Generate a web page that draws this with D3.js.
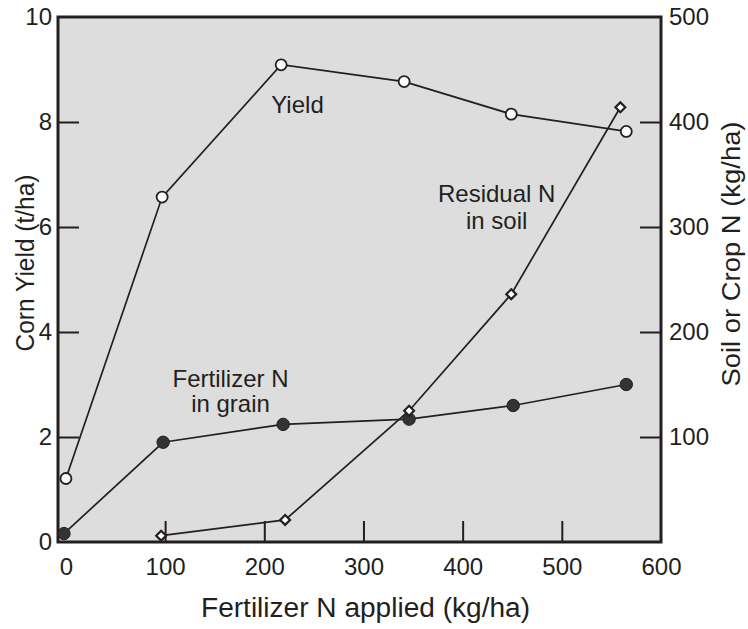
<!DOCTYPE html>
<html>
<head>
<meta charset="utf-8">
<script src="https://cdn.jsdelivr.net/npm/d3@7"></script>
<style>
  html, body { margin: 0; padding: 0; background: #fff; }
  svg { display: block; font-family: "Liberation Sans", Arial, sans-serif; }
</style>
</head>
<body>
<svg id="chart" width="748" height="629"></svg>
<script>
// ---- data ----
const xTickLabels = [0, 100, 200, 300, 400, 500, 600];
const yLeftTickLabels = [0, 2, 4, 6, 8, 10];
const yRightTickLabels = [100, 200, 300, 400, 500];

const yieldRate = [0, 97, 217, 341, 449, 565];
const yieldValues = [1.21, 6.57, 9.09, 8.77, 8.15, 7.82];        // t/ha (left axis)

const grainRate = [-2, 98, 219, 346, 451, 565];
const grainN = [8, 95, 112, 117, 130, 150];                       // kg/ha (right axis)

const residualRate = [96, 221, 346, 449, 559];
const residualN = [6, 21, 125, 236, 414];                         // kg/ha (right axis)

// ---- layout ----
const svg = d3.select("#chart");
const L = 58, R = 661, T = 17, B = 542;
const ink = "#231f20";

const x = d3.scaleLinear().domain([-8, 600]).range([L, R]);
const yL = d3.scaleLinear().domain([0, 10]).range([B, T]);
const yR = d3.scaleLinear().domain([0, 500]).range([B, T]);

// plot background
svg.append("rect").attr("x", L).attr("y", T).attr("width", R - L).attr("height", B - T)
  .attr("fill", "#dddddd");

// inward tick marks
const tickLen = 21;
const gxT = svg.append("g").attr("transform", `translate(0,${B})`)
  .call(d3.axisBottom(x).tickValues([100, 200, 300, 400, 500]).tickSize(-tickLen).tickFormat(""));
const gyLT = svg.append("g").attr("transform", `translate(${L},0)`)
  .call(d3.axisLeft(yL).tickValues([2, 4, 6, 8]).tickSize(-tickLen).tickFormat(""));
const gyRT = svg.append("g").attr("transform", `translate(${R},0)`)
  .call(d3.axisRight(yR).tickValues([100, 200, 300, 400]).tickSize(-tickLen).tickFormat(""));
[gxT, gyLT, gyRT].forEach(g => {
  g.select(".domain").remove();
  g.selectAll("line").attr("stroke", ink).attr("stroke-width", 2);
});

// tick labels
const fs = 24;
const gxL = svg.append("g").attr("transform", `translate(0,${B})`)
  .call(d3.axisBottom(x).tickValues(xTickLabels).tickSize(0).tickPadding(16));
const gyLL = svg.append("g").attr("transform", `translate(${L},0)`)
  .call(d3.axisLeft(yL).tickValues(yLeftTickLabels).tickSize(0).tickPadding(6));
const gyRL = svg.append("g").attr("transform", `translate(${R},0)`)
  .call(d3.axisRight(yR).tickValues(yRightTickLabels).tickSize(0).tickPadding(8));
[gxL, gyLL, gyRL].forEach(g => {
  g.select(".domain").remove();
  g.selectAll("text").attr("font-size", fs).attr("fill", ink)
    .attr("font-family", "Liberation Sans, Arial, sans-serif");
});

// frame
svg.append("rect").attr("x", L).attr("y", T).attr("width", R - L).attr("height", B - T)
  .attr("fill", "none").attr("stroke", ink).attr("stroke-width", 3);

// series lines
const lineGen = (xs, ys, yScale) => d3.line()(xs.map((v, i) => [x(v), yScale(ys[i])]));

svg.append("path").attr("d", lineGen(grainRate, grainN, yR))
  .attr("fill", "none").attr("stroke", ink).attr("stroke-width", 1.7);
svg.append("path").attr("d", lineGen(residualRate, residualN, yR))
  .attr("fill", "none").attr("stroke", ink).attr("stroke-width", 1.7);
svg.append("path").attr("d", lineGen(yieldRate, yieldValues, yL))
  .attr("fill", "none").attr("stroke", ink).attr("stroke-width", 1.7);

// markers
svg.append("g").selectAll("circle").data(grainRate).join("circle")
  .attr("cx", d => x(d)).attr("cy", (d, i) => yR(grainN[i])).attr("r", 6.2)
  .attr("fill", "#333333").attr("stroke", ink).attr("stroke-width", 1);

const diamond = d3.symbol().type(d3.symbolDiamond2).size(62);
svg.append("g").selectAll("path").data(residualRate).join("path")
  .attr("d", diamond)
  .attr("transform", (d, i) => `translate(${x(d)},${yR(residualN[i])})`)
  .attr("fill", "#ffffff").attr("stroke", ink).attr("stroke-width", 2.2);

svg.append("g").selectAll("circle").data(yieldRate).join("circle")
  .attr("cx", d => x(d)).attr("cy", (d, i) => yL(yieldValues[i])).attr("r", 5.5)
  .attr("fill", "#ffffff").attr("stroke", ink).attr("stroke-width", 1.8);

// annotations
const ann = svg.append("g").attr("font-size", fs).attr("fill", ink).attr("text-anchor", "middle");
ann.append("text").attr("x", 297.5).attr("y", 113).text("Yield");
ann.append("text").attr("x", 230.5).attr("y", 387).text("Fertilizer N");
ann.append("text").attr("x", 230.5).attr("y", 412).text("in grain");
ann.append("text").attr("x", 496.7).attr("y", 202).text("Residual N");
ann.append("text").attr("x", 496.7).attr("y", 228.5).text("in soil");

// axis titles
svg.append("text").attr("x", 365.5).attr("y", 617).attr("text-anchor", "middle")
  .attr("font-size", 27).attr("fill", ink)
  .attr("textLength", 329).attr("lengthAdjust", "spacingAndGlyphs")
  .text("Fertilizer N applied (kg/ha)");
svg.append("text").attr("transform", "translate(34,263) rotate(-90)").attr("text-anchor", "middle")
  .attr("font-size", 26).attr("fill", ink)
  .attr("textLength", 177).attr("lengthAdjust", "spacingAndGlyphs")
  .text("Corn Yield (t/ha)");
svg.append("text").attr("transform", "translate(740,254) rotate(-90)").attr("text-anchor", "middle")
  .attr("font-size", 26).attr("fill", ink)
  .attr("textLength", 265).attr("lengthAdjust", "spacingAndGlyphs")
  .text("Soil or Crop N (kg/ha)");
</script>
</body>
</html>
